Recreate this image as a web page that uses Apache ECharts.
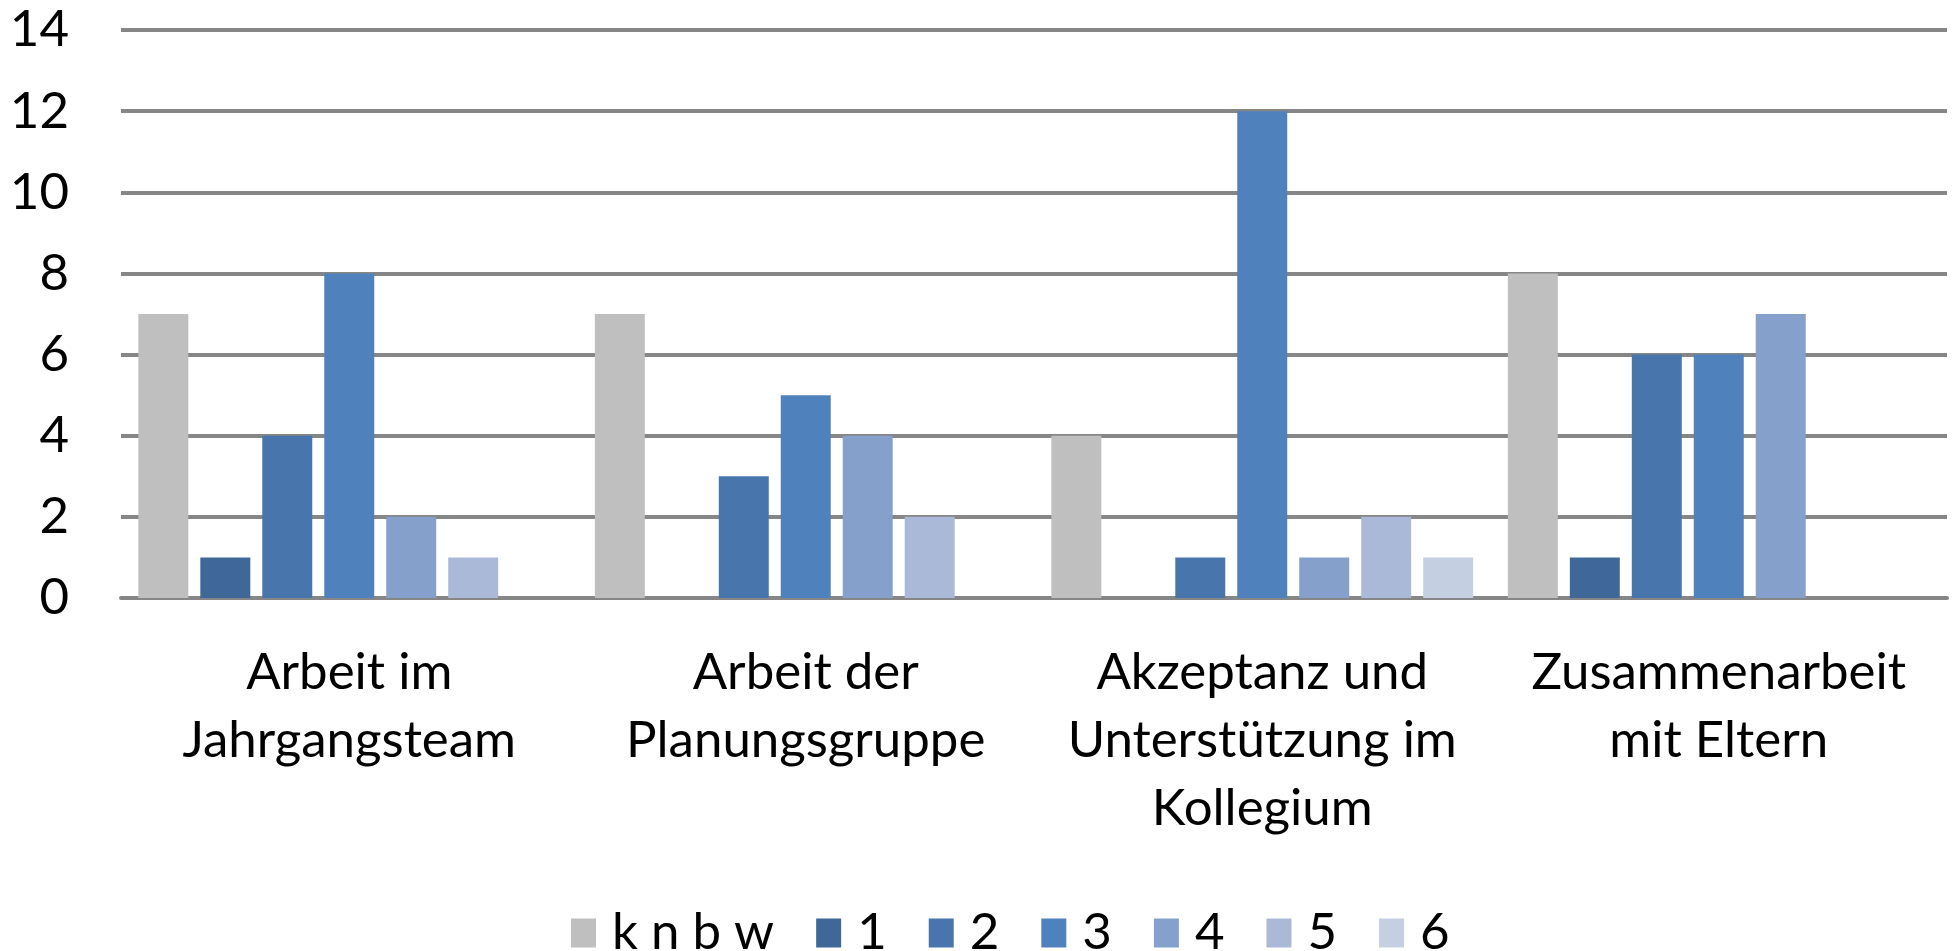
<!DOCTYPE html>
<html>
<head>
<meta charset="utf-8">
<script src="https://cdn.jsdelivr.net/npm/echarts@6/dist/echarts.min.js"></script>
<style>
html,body{margin:0;padding:0;background:#fff;}
#chart{width:1954px;height:951px;}
</style>
</head>
<body>
<div id="chart"></div>
<script>
const categories = ["Arbeit im\nJahrgangsteam", "Arbeit der\nPlanungsgruppe", "Akzeptanz und\nUnterstützung im\nKollegium", "Zusammenarbeit\nmit Eltern"];
const seriesNames = ["k n b w", "1", "2", "3", "4", "5", "6"];
const knbw = [7, 7, 4, 8];
const s1 = [1, 0, 0, 1];
const s2 = [4, 3, 1, 6];
const s3 = [8, 5, 12, 6];
const s4 = [2, 4, 1, 7];
const s5 = [1, 2, 2, 0];
const s6 = [0, 0, 1, 0];
const yTicks = [0, 2, 4, 6, 8, 10, 12, 14];

const colors = ["#BFBFBF", "#3F6899", "#4876AC", "#4F81BD", "#84A0CB", "#AAB9D7", "#C4CFE2"];
const dataSets = [knbw, s1, s2, s3, s4, s5, s6];
const font = "Lato, Carlito, Calibri, 'Open Sans', sans-serif";

const chart = echarts.init(document.getElementById('chart'));
chart.setOption({
  animation: false,
  backgroundColor: '#ffffff',
  grid: { left: 121, right: 7, top: 30, bottom: 353, containLabel: false },
  legend: {
    data: seriesNames,
    left: 566,
    top: 901,
    itemWidth: 25,
    itemHeight: 29,
    itemGap: 42,
    icon: 'rect',
    textStyle: { fontFamily: font, fontSize: 51, lineHeight: 54, color: '#000', padding: [0, 0, 0, 11] }
  },
  xAxis: {
    type: 'category',
    data: categories,
    axisLine: { show: true, lineStyle: { color: '#868686', width: 4 } },
    axisTick: { show: false },
    axisLabel: { interval: 0, margin: 41, fontFamily: font, fontSize: 51, lineHeight: 68, color: '#000' }
  },
  yAxis: {
    type: 'value',
    min: yTicks[0],
    max: yTicks[yTicks.length - 1],
    interval: 2,
    axisLine: { show: false },
    axisTick: { show: false },
    axisLabel: { margin: 52, fontFamily: font, fontSize: 51, color: '#000' },
    splitLine: { show: true, lineStyle: { color: '#868686', width: 4 } }
  },
  series: seriesNames.map((name, i) => ({
    name: name,
    type: 'bar',
    data: dataSets[i],
    barGap: '24%',
    barCategoryGap: '7.6%',
    itemStyle: { color: colors[i] }
  }))
});
</script>
</body>
</html>
